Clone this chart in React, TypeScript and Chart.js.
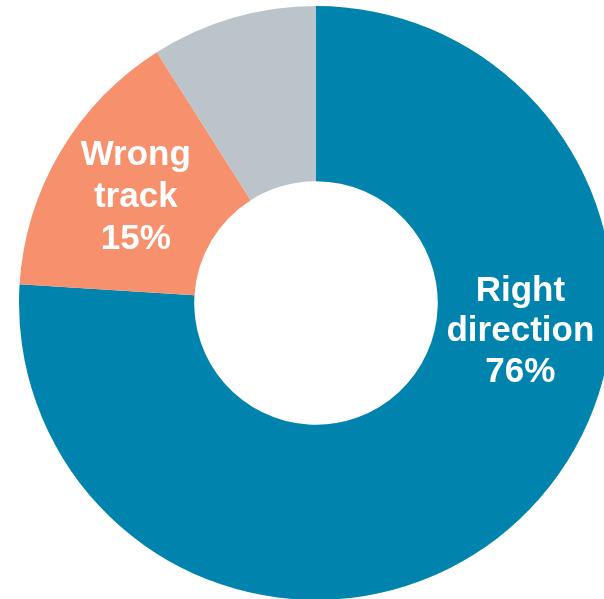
import React, { useEffect, useRef } from "react";
import { Chart, registerables } from "chart.js";

Chart.register(...registerables);

const categories = ["Right direction", "Wrong track", "Don't know"];
const values = [76, 15, 9];
const labelLines = [["Right", "direction", "76%"], ["Wrong", "track", "15%"], []];
const colors = ["#0084AD", "#F6906D", "#BAC4CA"];

const labelPlugin = {
  id: "sliceLabels",
  afterDatasetsDraw(chart: any) {
    const meta = chart.getDatasetMeta(0);
    const ctx = chart.ctx;
    ctx.save();
    ctx.fillStyle = "#ffffff";
    ctx.font = "bold 35px 'Liberation Sans', Arial, sans-serif";
    ctx.textAlign = "center";
    ctx.textBaseline = "middle";
    meta.data.forEach((arc: any, i: number) => {
      const lines = labelLines[i];
      if (!lines || !lines.length) return;
      const p = arc.getProps(["x", "y", "startAngle", "endAngle", "innerRadius", "outerRadius"], true);
      let ang = (p.startAngle + p.endAngle) / 2;
      let r = (p.innerRadius + p.outerRadius) / 2;
      let lh = 42;
      let dy = 1;
      if (i === 0) {
        ang = -Math.PI / 2 + (98 * Math.PI) / 180;
        r = (p.innerRadius + p.outerRadius) / 2 - 3;
        lh = 40.5;
        dy = 0;
      }
      const cx = p.x + Math.cos(ang) * r;
      const cy = p.y + Math.sin(ang) * r + dy;
      lines.forEach((t: string, k: number) => {
        ctx.fillText(t, cx, cy + (k - (lines.length - 1) / 2) * lh);
      });
    });
    ctx.restore();
  },
};

export default function App() {
  const ref = useRef<HTMLCanvasElement>(null);
  useEffect(() => {
    const chart = new Chart(ref.current!, {
      type: "doughnut",
      data: {
        labels: categories,
        datasets: [
          {
            data: values,
            backgroundColor: colors,
            borderWidth: 0,
          },
        ],
      },
      options: {
        animation: false,
        responsive: false,
        cutout: "41%",
        layout: { padding: 0 },
        plugins: { legend: { display: false }, tooltip: { enabled: false } },
      },
      plugins: [labelPlugin],
    });
    return () => chart.destroy();
  }, []);
  return (
    <div style={{ position: "fixed", left: 0, top: 0, width: 604, height: 599, overflow: "hidden", background: "#fff" }}>
      <canvas
        ref={ref}
        width={632}
        height={594}
        style={{ position: "absolute", left: 0, top: 6, width: 632, height: 594 }}
      />
    </div>
  );
}
